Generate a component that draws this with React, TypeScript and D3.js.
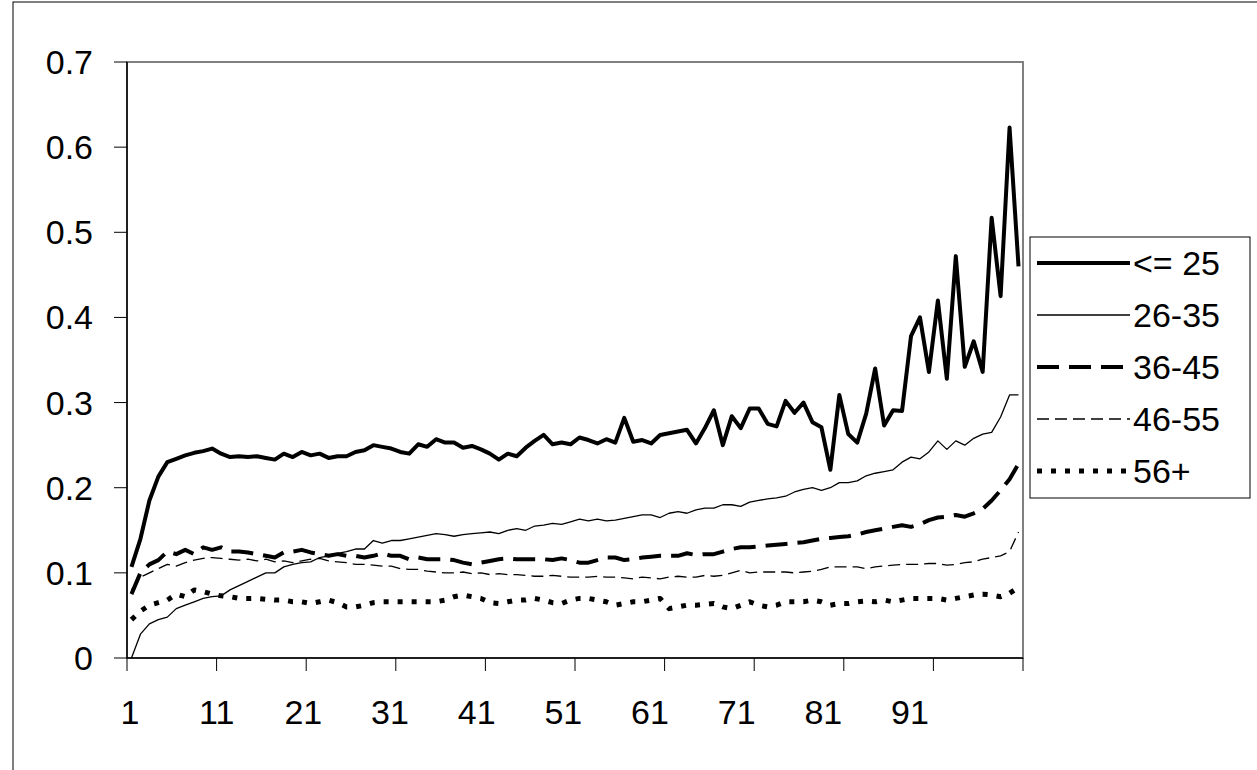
import React from 'react';
import * as d3 from 'd3';

const seriesNames = ['<= 25', '26-35', '36-45', '46-55', '56+'];

const s25 = [0.107, 0.14, 0.185, 0.213, 0.23, 0.234, 0.238, 0.241, 0.243, 0.246,
  0.24, 0.236, 0.237, 0.236, 0.237, 0.235, 0.233, 0.24, 0.236, 0.242,
  0.238, 0.24, 0.235, 0.237, 0.237, 0.242, 0.244, 0.25, 0.248, 0.246,
  0.242, 0.24, 0.251, 0.248, 0.257, 0.253, 0.253, 0.247, 0.249, 0.245,
  0.24, 0.233, 0.24, 0.237, 0.247, 0.255, 0.262, 0.251, 0.253, 0.251,
  0.259, 0.256, 0.252, 0.257, 0.253, 0.282, 0.254, 0.256, 0.252, 0.262,
  0.264, 0.266, 0.268, 0.252, 0.27, 0.291, 0.25, 0.284, 0.27, 0.293,
  0.293, 0.275, 0.272, 0.302, 0.288, 0.3, 0.277, 0.271, 0.221, 0.309,
  0.263, 0.253, 0.287, 0.34, 0.273, 0.291, 0.29, 0.378, 0.4, 0.336,
  0.42, 0.328, 0.472, 0.342, 0.372, 0.336, 0.517, 0.425, 0.623, 0.46];

const s26 = [0, 0.028, 0.04, 0.045, 0.048, 0.058, 0.062, 0.066, 0.07, 0.072,
  0.073, 0.08, 0.085, 0.09, 0.095, 0.1, 0.1, 0.107, 0.11, 0.112,
  0.113, 0.118, 0.12, 0.123, 0.125, 0.128, 0.128, 0.138, 0.135, 0.138,
  0.138, 0.14, 0.142, 0.144, 0.146, 0.145, 0.143, 0.145, 0.146, 0.147,
  0.148, 0.146, 0.15, 0.152, 0.15, 0.155, 0.156, 0.158, 0.157, 0.16,
  0.163, 0.161, 0.163, 0.161, 0.162, 0.164, 0.166, 0.168, 0.168, 0.165,
  0.17, 0.172, 0.17, 0.174, 0.176, 0.176, 0.18, 0.18, 0.178, 0.183,
  0.185, 0.187, 0.188, 0.19, 0.195, 0.198, 0.2, 0.197, 0.2, 0.206,
  0.206, 0.208, 0.214, 0.217, 0.219, 0.221, 0.23, 0.236, 0.234, 0.242,
  0.255, 0.245, 0.255, 0.25, 0.258, 0.263, 0.265, 0.283, 0.309, 0.309];

const s36 = [0.075, 0.1, 0.11, 0.115, 0.125, 0.122, 0.127, 0.122, 0.13, 0.127,
  0.13, 0.125, 0.125, 0.124, 0.122, 0.12, 0.118, 0.124, 0.125, 0.127,
  0.124, 0.122, 0.12, 0.122, 0.12, 0.12, 0.118, 0.12, 0.123, 0.12,
  0.12, 0.116, 0.118, 0.116, 0.116, 0.116, 0.115, 0.112, 0.11, 0.112,
  0.114, 0.116, 0.117, 0.116, 0.116, 0.116, 0.116, 0.115, 0.117, 0.115,
  0.112, 0.112, 0.115, 0.118, 0.118, 0.115, 0.116, 0.118, 0.119, 0.12,
  0.12, 0.12, 0.123, 0.121, 0.122, 0.122, 0.125, 0.128, 0.13, 0.13,
  0.131, 0.132, 0.133, 0.134, 0.135, 0.136, 0.138, 0.14, 0.141, 0.142,
  0.143, 0.145, 0.148, 0.15, 0.152, 0.154, 0.156, 0.154, 0.157, 0.162,
  0.165, 0.166, 0.168, 0.166, 0.17, 0.175, 0.185, 0.197, 0.21, 0.228];

const s46 = [0.08, 0.095, 0.1, 0.105, 0.11, 0.108, 0.112, 0.115, 0.117, 0.118,
  0.117, 0.116, 0.115, 0.116, 0.114, 0.116, 0.113, 0.114, 0.112, 0.114,
  0.116, 0.117, 0.114, 0.113, 0.112, 0.11, 0.11, 0.109, 0.108, 0.108,
  0.105, 0.104, 0.104, 0.102, 0.101, 0.1, 0.1, 0.101, 0.099, 0.1,
  0.098, 0.099, 0.098, 0.098, 0.097, 0.096, 0.096, 0.097, 0.096, 0.095,
  0.095, 0.095, 0.096, 0.095, 0.095, 0.094, 0.093, 0.095, 0.094, 0.093,
  0.095, 0.096, 0.095, 0.095, 0.097, 0.096, 0.097, 0.1, 0.103, 0.1,
  0.101, 0.101, 0.101, 0.101, 0.1, 0.101, 0.102, 0.104, 0.107, 0.107,
  0.107, 0.107, 0.105, 0.107, 0.108, 0.109, 0.11, 0.11, 0.11, 0.111,
  0.111, 0.109, 0.11, 0.112, 0.113, 0.116, 0.118, 0.12, 0.125, 0.148];

const s56 = [0.045, 0.055, 0.062, 0.065, 0.068, 0.075, 0.072, 0.08, 0.078, 0.075,
  0.073, 0.072, 0.07, 0.07, 0.07, 0.069, 0.068, 0.068, 0.066, 0.066,
  0.064, 0.066, 0.068, 0.065, 0.06, 0.06, 0.062, 0.065, 0.066, 0.066,
  0.066, 0.066, 0.066, 0.066, 0.066, 0.068, 0.072, 0.074, 0.072, 0.07,
  0.065, 0.064, 0.066, 0.068, 0.068, 0.07, 0.068, 0.065, 0.064, 0.068,
  0.07, 0.07, 0.068, 0.066, 0.062, 0.064, 0.066, 0.066, 0.068, 0.07,
  0.058, 0.06, 0.062, 0.062, 0.063, 0.064, 0.06, 0.058, 0.062, 0.066,
  0.062, 0.06, 0.062, 0.066, 0.066, 0.066, 0.068, 0.066, 0.062, 0.064,
  0.064, 0.066, 0.067, 0.066, 0.068, 0.066, 0.068, 0.07, 0.07, 0.07,
  0.07, 0.068, 0.07, 0.072, 0.074, 0.075, 0.074, 0.072, 0.076, 0.083];

const allSeries = [s25, s26, s36, s46, s56];
const yTicks = [0, 0.1, 0.2, 0.3, 0.4, 0.5, 0.6, 0.7];
const xLabels = [1, 11, 21, 31, 41, 51, 61, 71, 81, 91];

const styles = [
  { w: 4, dash: '' },
  { w: 1.3, dash: '' },
  { w: 4, dash: '22,10' },
  { w: 1.3, dash: '12,6' },
  { w: 5, dash: '5,9' },
];

export default function App() {
  const left = 127, right = 1023, top = 62, bottom = 658;
  const n = s25.length;
  const band = d3.scaleBand<number>().domain(d3.range(1, n + 1)).range([left, right]);
  const cx = (i: number) => (band(i) as number) + band.bandwidth() / 2;
  const y = d3.scaleLinear().domain([0, 0.7]).range([bottom, top]);
  // label positions in the original drift from the category centres
  const labelX = d3.scaleLinear().domain([1, 91]).range([130, 910]);
  const line = d3.line<number>().x((_, i) => cx(i + 1)).y(d => y(d));
  const font = 'Arial, "Liberation Sans", sans-serif';
  const fs = 34;

  return (
    <svg width={1257} height={770} style={{ display: 'block', position: 'absolute', left: 0, top: 0 }}>
      <rect x={13} y={2} width={1260} height={780} fill="white" stroke="black" strokeWidth={1} />
      <rect x={left} y={top} width={right - left} height={bottom - top} fill="white" stroke="#808080" strokeWidth={2} />
      {yTicks.map(t => (
        <g key={t}>
          <line x1={left - 13} x2={left} y1={y(t)} y2={y(t)} stroke="black" />
          <text x={left - 34} y={y(t) + 12} textAnchor="end" fontFamily={font} fontSize={fs}>{t === 0 ? '0' : t.toFixed(1)}</text>
        </g>
      ))}
      <line x1={left} x2={right} y1={bottom} y2={bottom} stroke="black" strokeWidth={1.5} />
      <line x1={left} x2={left} y1={top} y2={bottom} stroke="black" strokeWidth={1.5} />
      {d3.range(0, n + 1, 10).map(k => {
        const xx = k === n ? right : (band(k + 1) as number);
        return <line key={k} x1={xx} x2={xx} y1={bottom} y2={bottom + 13} stroke="black" />;
      })}
      {xLabels.map(l => (
        <text key={l} x={labelX(l)} y={bottom + 66} textAnchor="middle" fontFamily={font} fontSize={fs}>{l}</text>
      ))}
      {allSeries.map((s, k) => (
        <path key={k} d={line(s) as string} fill="none" stroke="black" strokeWidth={styles[k].w}
          strokeDasharray={styles[k].dash} strokeLinejoin="round" />
      ))}
      <rect x={1030} y={237} width={220} height={261} fill="white" stroke="black" strokeWidth={1} />
      {seriesNames.map((name, k) => {
        const yy = 263 + k * 52;
        return (
          <g key={name}>
            <line x1={1037} x2={1130} y1={yy} y2={yy} stroke="black" strokeWidth={styles[k].w} strokeDasharray={styles[k].dash} />
            <text x={1133} y={yy + 12} fontFamily={font} fontSize={fs}>{name}</text>
          </g>
        );
      })}
    </svg>
  );
}
